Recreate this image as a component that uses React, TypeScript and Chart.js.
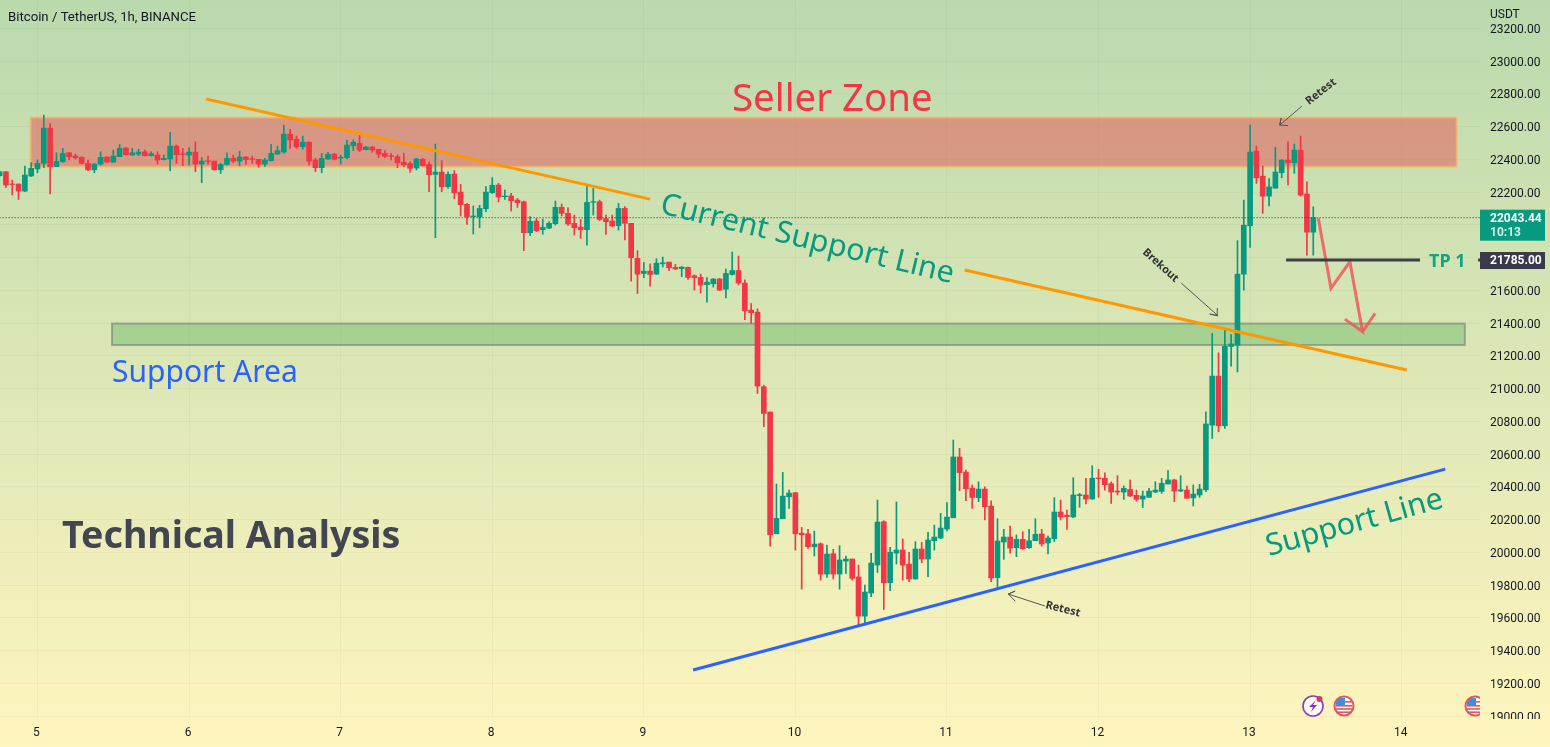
import React, { useEffect, useRef } from "react";
import { Chart, registerables } from "chart.js";

Chart.register(...registerables);

const firstHour = -6;
const opens = [
  22300,22324,22250,22249,22206,22298,22341,22375,22591,22355,
  22385,22440,22420,22412,22375,22336,22371,22414,22383,22416,
  22469,22426,22432,22446,22422,22426,22398,22402,22481,22434,
  22426,22444,22371,22391,22389,22336,22369,22406,22389,22414,
  22404,22400,22371,22392,22432,22444,22554,22522,22477,22505,
  22396,22349,22402,22432,22408,22410,22483,22497,22459,22475,
  22461,22436,22422,22416,22383,22375,22347,22400,22369,22308,
  22322,22233,22310,22200,22125,22050,22048,22098,22196,22243,
  22172,22176,22151,22141,21952,22023,21970,21980,22007,22107,
  22070,22009,21986,21970,22137,22141,22037,22023,21995,22100,
  22009,21795,21703,21717,21699,21762,21772,21740,21732,21740,
  21689,21679,21634,21640,21669,21607,21697,21721,21644,21479,
  21467,21011,20857,20113,20205,20339,20364,20117,20113,20034,
  20052,19867,19991,19867,19946,19959,19849,19610,19751,19922,
  20187,19814,19995,20014,19928,19837,20020,19959,20071,20087,
  20142,20211,20582,20490,20392,20333,20386,20282,19845,20063,
  20093,20028,20079,20028,20071,20112,20057,20083,20246,20226,
  20216,20346,20350,20325,20454,20452,20419,20374,20368,20384,
  20348,20325,20336,20368,20372,20417,20442,20374,20380,20332,
  20350,20382,20777,21076,20773,21257,21265,21699,21994,22450,
  22297,22175,22224,22318,22395,22379,22456,22188,21955,
];
const highs = [
  22330,22326,22273,22250,22359,22379,22396,22670,22620,22440,
  22467,22440,22432,22416,22396,22375,22446,22416,22457,22491,
  22471,22467,22461,22457,22446,22446,22426,22565,22487,22467,
  22471,22507,22412,22420,22389,22375,22440,22426,22450,22416,
  22420,22400,22406,22491,22481,22609,22583,22542,22542,22507,
  22406,22436,22442,22436,22426,22518,22518,22559,22479,22479,
  22461,22453,22436,22426,22436,22385,22406,22406,22385,22493,
  22392,22324,22331,22247,22131,22115,22119,22233,22288,22253,
  22212,22192,22162,22145,22050,22039,22035,22019,22145,22127,
  22105,22060,22033,22243,22223,22151,22060,22060,22131,22111,
  22009,21842,21770,21762,21793,21803,21772,21758,21744,21742,
  21695,21699,21677,21671,21673,21730,21834,21809,21664,21519,
  21487,21021,20857,20417,20488,20380,20364,20152,20140,20130,
  20058,20044,20018,20040,19977,19959,19922,19800,19993,20319,
  20193,20030,20307,20081,20000,20065,20060,20122,20166,20238,
  20303,20686,20635,20502,20411,20431,20400,20315,20205,20140,
  20160,20106,20126,20140,20205,20140,20099,20334,20319,20258,
  20456,20360,20452,20529,20507,20486,20431,20468,20405,20442,
  20380,20374,20391,20431,20452,20499,20446,20468,20405,20411,
  20415,20858,21337,21218,21367,21330,21903,22151,22609,22481,
  22359,22283,22473,22399,22507,22493,22542,22263,22110,
];
const lows = [
  22295,22227,22182,22155,22202,22295,22318,22349,22188,22355,
  22381,22396,22400,22371,22330,22318,22365,22381,22381,22416,
  22426,22424,22422,22420,22420,22371,22396,22330,22375,22361,
  22365,22324,22257,22371,22334,22314,22365,22379,22361,22369,
  22375,22351,22357,22389,22430,22436,22467,22467,22461,22365,
  22324,22318,22400,22396,22371,22402,22453,22447,22457,22443,
  22410,22410,22396,22349,22355,22320,22335,22359,22202,21921,
  22202,22223,22160,22054,22003,21944,21982,22080,22192,22140,
  22155,22084,22107,21842,21934,21958,21942,21976,21999,22054,
  21997,21938,21917,21876,22060,22025,21942,21988,21968,21907,
  21656,21581,21677,21626,21697,21742,21720,21728,21683,21667,
  21602,21583,21528,21620,21599,21554,21693,21632,21420,21400,
  20970,20767,20038,20113,20205,20268,20014,19775,20024,19977,
  19830,19847,19837,19775,19871,19830,19555,19555,19729,19877,
  19651,19765,19928,19830,19820,19837,19936,19851,20014,20083,
  20130,20211,20376,20315,20268,20309,20197,19820,19780,19957,
  19994,19973,20018,20024,20071,20038,19990,20065,20197,20140,
  20211,20275,20295,20325,20336,20380,20299,20350,20323,20340,
  20313,20273,20336,20364,20360,20417,20309,20370,20330,20283,
  20336,20370,20695,20736,20756,21137,21102,21601,21862,22253,
  22070,22116,22224,22287,22243,22314,22175,21815,21815,
];
const closes = [
  22324,22243,22246,22206,22304,22345,22375,22591,22355,22387,
  22436,22416,22410,22375,22336,22371,22412,22383,22420,22467,
  22428,22440,22444,22422,22434,22396,22406,22481,22428,22430,
  22444,22371,22389,22387,22336,22369,22406,22389,22414,22398,
  22400,22371,22396,22436,22453,22554,22518,22477,22505,22389,
  22349,22406,22430,22400,22412,22487,22504,22457,22475,22457,
  22432,22418,22418,22379,22367,22345,22402,22361,22306,22322,
  22233,22308,22196,22123,22050,22054,22100,22200,22241,22170,
  22176,22147,22135,21952,22021,21964,21984,22009,22107,22070,
  22005,21982,21970,22137,22141,22033,22019,21993,22100,22009,
  21799,21699,21717,21697,21766,21768,21738,21730,21742,21679,
  21677,21632,21650,21669,21601,21703,21721,21644,21475,21463,
  21015,20848,20107,20207,20343,20362,20113,20107,20034,20050,
  19867,19989,19867,19953,19959,19841,19610,19757,19934,20185,
  19814,20001,20014,19922,19837,20020,19959,20075,20093,20148,
  20215,20582,20486,20388,20335,20386,20278,19843,20069,20093,
  20026,20079,20022,20071,20110,20051,20087,20246,20216,20218,
  20350,20352,20325,20452,20450,20413,20368,20368,20391,20344,
  20323,20344,20374,20380,20421,20442,20374,20382,20330,20356,
  20386,20784,21076,20773,21259,21273,21699,21998,22444,22287,
  22175,22232,22322,22395,22379,22456,22181,21955,22043.44,
];

const dayLabels = ["5","6","7","8","9","10","11","12","13","14"];
const dayHours = [0,24,48,72,96,120,144,168,192,216];
const priceTicks = [19000,19200,19400,19600,19800,20000,20200,20400,20600,20800,21000,21200,21400,21600,21800,22000,22200,22400,22600,22800,23000,23200];

const lastPrice = 22043.44;
const tpPrice = 21785;
const sellerZoneHours = [-1.08, 224.7];
const sellerZonePrices = [22355, 22655];
const supportZoneHours = [11.8, 226];
const supportZonePrices = [21266, 21397];

const upperTrend = [{x:26.7,y:22768},{x:97,y:22157}];
const lowerTrend = [{x:146.8,y:21724},{x:216.8,y:21113}];
const blueTrend = [{x:103.8,y:19281},{x:222.9,y:20508}];
const tpLine = [{x:197.7,y:tpPrice},{x:218.9,y:tpPrice},{x:219,y:null},{x:228.1,y:tpPrice},{x:228.4,y:tpPrice}];
const forecastPath = [{x:202.8,y:22040},{x:204.8,y:21612},{x:207.8,y:21774},{x:209.8,y:21347},{x:207,y:21424},{x:209.8,y:21347},{x:211.8,y:21459}];
const retestTopArrow = [{x:200.2,y:22725},{x:196.7,y:22609},{x:196.9,y:22652},{x:196.7,y:22609},{x:198,y:22606}];
const breakoutArrow = [{x:181.1,y:21644},{x:186.9,y:21445},{x:185.6,y:21455},{x:186.9,y:21445},{x:186.8,y:21492}];
const retestLowArrow = [{x:159.5,y:19672},{x:153.7,y:19745},{x:154.8,y:19763},{x:153.7,y:19745},{x:154.8,y:19702}];

const GREEN = "#089981";
const RED = "#F23645";
const FONT = "'Noto Sans'";
const AXIS_FONT = "Roboto";

function bgGradient(ctx: CanvasRenderingContext2D) {
  const g = ctx.createLinearGradient(0, 0, 0, 747);
  g.addColorStop(0, "#BAD9AD");
  g.addColorStop(1, "#FFF5BE");
  return g;
}

function label(ctx: CanvasRenderingContext2D, text: string, x: number, y: number, font: string, color: string, rot = 0) {
  ctx.save();
  ctx.translate(x, y);
  ctx.rotate((rot * Math.PI) / 180);
  ctx.font = font;
  ctx.fillStyle = color;
  ctx.textAlign = "left";
  ctx.textBaseline = "alphabetic";
  ctx.fillText(text, 0, 0);
  ctx.restore();
}

function flagIcon(ctx: CanvasRenderingContext2D, cx: number, cy: number) {
  ctx.save();
  ctx.beginPath();
  ctx.arc(cx, cy, 10, 0, Math.PI * 2);
  ctx.fillStyle = "#fff";
  ctx.fill();
  ctx.clip();
  ctx.fillStyle = "#E0575B";
  for (let i = 0; i < 3; i++) ctx.fillRect(cx - 8, cy - 1 + i * 3.2, 16, 1.6);
  ctx.fillStyle = "#3F8FE0";
  ctx.fillRect(cx - 8, cy - 8, 9, 7);
  ctx.fillStyle = "#E0575B";
  ctx.fillRect(cx + 1, cy - 5, 7, 1.6);
  ctx.restore();
  ctx.beginPath();
  ctx.arc(cx, cy, 9.5, 0, Math.PI * 2);
  ctx.strokeStyle = "#E0575B";
  ctx.lineWidth = 2;
  ctx.stroke();
}

function boltIcon(ctx: CanvasRenderingContext2D, cx: number, cy: number) {
  ctx.beginPath();
  ctx.arc(cx, cy, 10, 0, Math.PI * 2);
  ctx.fillStyle = "#fff";
  ctx.fill();
  ctx.strokeStyle = "#8E3BB8";
  ctx.lineWidth = 1.6;
  ctx.stroke();
  ctx.beginPath();
  ctx.moveTo(cx + 3, cy - 6);
  ctx.lineTo(cx - 4, cy + 1);
  ctx.lineTo(cx, cy + 1);
  ctx.lineTo(cx - 2, cy + 6);
  ctx.lineTo(cx + 4, cy - 1);
  ctx.lineTo(cx, cy - 1);
  ctx.closePath();
  ctx.fillStyle = "#9C27B0";
  ctx.fill();
  ctx.beginPath();
  ctx.arc(cx + 6.5, cy - 7, 3, 0, Math.PI * 2);
  ctx.fillStyle = "#E0355A";
  ctx.fill();
}

// Nudges a scale's tick labels by a pixel or two; Chart.js has no option for it.
function nudgeLabels(scale: any, dx: number, dy: number) {
  if (scale.__nudged) return;
  scale.__nudged = true;
  const compute = scale._computeLabelItems.bind(scale);
  scale._computeLabelItems = (area: any) =>
    compute(area).map((item: any) => ({
      ...item,
      options: {
        ...item.options,
        translation: [item.options.translation[0] + dx, item.options.translation[1] + dy],
      },
    }));
}

const drawingPlugin = {
  id: "drawings",
  beforeDraw(chart: any) {
    const { ctx } = chart;
    ctx.save();
    ctx.fillStyle = bgGradient(ctx);
    ctx.fillRect(0, 0, chart.width, chart.height);
    ctx.restore();
  },
  beforeDatasetsDraw(chart: any) {
    const { ctx, scales } = chart;
    const { x, y } = scales;
    const zone = (hrs: number[], prices: number[], fill: string, stroke: string) => {
      const l = x.getPixelForValue(hrs[0]);
      const r = x.getPixelForValue(hrs[1]);
      const t = y.getPixelForValue(prices[1]);
      const b = y.getPixelForValue(prices[0]);
      ctx.save();
      ctx.fillStyle = fill;
      ctx.fillRect(l, t, r - l, b - t);
      ctx.strokeStyle = stroke;
      ctx.lineWidth = 2;
      ctx.strokeRect(l, t, r - l, b - t);
      ctx.restore();
    };
    zone(sellerZoneHours, sellerZonePrices, "rgba(230,85,90,0.51)", "rgba(255,180,90,0.65)");
    zone(supportZoneHours, supportZonePrices, "rgba(76,175,80,0.36)", "rgba(120,125,125,0.6)");
  },
  afterDatasetsDraw(chart: any) {
    const { ctx, chartArea } = chart;
    label(ctx, "Seller Zone", 732, 111, `38.4px ${FONT}`, RED);
    label(ctx, "Current Support Line", 659, 213, `30.5px ${FONT}`, GREEN, 13.5);
    label(ctx, "Support Area", 112, 382, `30px ${FONT}`, "#2962FF");
    label(ctx, "Technical Analysis", 62, 548, `bold 37.6px ${FONT}`, "#434651");
    label(ctx, "Support Line", 1269, 556, `30.4px ${FONT}`, GREEN, -15.5);
    label(ctx, "TP 1", 1429, 267, `bold 18px ${FONT}`, "#14A37F");
    label(ctx, "Retest", 1309, 105, `bold 11px ${FONT}`, "#333", -38);
    label(ctx, "Brekout", 1142, 253, `bold 11px ${FONT}`, "#333", 42);
    label(ctx, "Retest", 1045, 608, `bold 11px ${FONT}`, "#333", 14);
    label(ctx, "Bitcoin / TetherUS, 1h, BINANCE", 8, 21, `13.2px ${AXIS_FONT}`, "#131722");
    ctx.save();
    ctx.beginPath();
    ctx.rect(chartArea.left, chartArea.top, chartArea.right - chartArea.left, chartArea.bottom - chartArea.top);
    ctx.clip();
    boltIcon(ctx, 1313, 706);
    flagIcon(ctx, 1344, 706);
    flagIcon(ctx, 1475, 706);
    ctx.restore();
  },
  afterDraw(chart: any) {
    const { ctx, chartArea } = chart;
    ctx.save();
    ctx.fillStyle = bgGradient(ctx);
    ctx.fillRect(chartArea.right, chartArea.bottom + 1, chart.width - chartArea.right, chart.height);
    ctx.fillRect(chartArea.right, 0, chart.width - chartArea.right, 24);
    ctx.restore();
    label(ctx, "USDT", 1490, 18, `12px ${AXIS_FONT}`, "#131722");
    const { y } = chart.scales;
    const boxL = chartArea.right;
    const lastY = y.getPixelForValue(lastPrice);
    ctx.save();
    ctx.fillStyle = GREEN;
    ctx.fillRect(boxL, lastY - 8, 65, 31);
    ctx.fillStyle = "#3A3A4A";
    ctx.fillRect(boxL, y.getPixelForValue(tpPrice) - 8, 65, 17);
    ctx.restore();
    label(ctx, lastPrice.toFixed(2), 1490, lastY + 4, `bold 12px ${AXIS_FONT}`, "#fff");
    label(ctx, "10:13", 1490, lastY + 18, `bold 12px ${AXIS_FONT}`, "#D5F0E8");
    label(ctx, tpPrice.toFixed(2), 1490, y.getPixelForValue(tpPrice) + 4, `bold 12px ${AXIS_FONT}`, "#fff");
  },
};

export default function App() {
  const ref = useRef<HTMLCanvasElement | null>(null);
  useEffect(() => {
    const colors = closes.map((c, i) => (c >= opens[i] ? GREEN : RED));
    const line = (data: any[], color: string, width: number, extra: any = {}) => ({
      type: "line",
      data,
      borderColor: color,
      borderWidth: width,
      pointRadius: 0,
      tension: 0,
      fill: false,
      order: 0,
      ...extra,
    });
    const chart = new Chart(ref.current as HTMLCanvasElement, {
      type: "bar",
      data: {
        datasets: [
          line([{x:firstHour,y:lastPrice},{x:228.4,y:lastPrice}], "#0B3D33", 1, { borderDash: [1, 2] }),
          line(upperTrend, "#FF9800", 3),
          line(lowerTrend, "#FF9800", 3),
          line(blueTrend, "#2962FF", 3),
          line(tpLine, "#3D3D4A", 3),
          line(forecastPath, "rgba(240,80,85,0.8)", 3),
          line(retestTopArrow, "#555", 1),
          line(breakoutArrow, "#555", 1),
          line(retestLowArrow, "#555", 1),
          {
            type: "bar",
            data: opens.map((o, i) => ({ x: firstHour + i, y: [o, closes[i]] })),
            backgroundColor: colors,
            barThickness: 5,
            grouped: false,
            order: 1,
          },
          {
            type: "bar",
            data: lows.map((l, i) => ({ x: firstHour + i, y: [l, highs[i]] })),
            backgroundColor: colors,
            barThickness: 1,
            grouped: false,
            order: 2,
          },
        ] as any,
      },
      options: {
        responsive: false,
        animation: false,
        layout: { padding: 0 },
        plugins: { legend: { display: false }, tooltip: { enabled: false } },
        scales: {
          x: {
            type: "linear",
            min: -5.937,
            max: 228.4,
            offset: false,
            afterFit: (s: any) => { s.height = 29; s.paddingLeft = 0; s.paddingRight = 0; nudgeLabels(s, -1, 1); },
            afterBuildTicks: (s: any) => { s.ticks = dayHours.map((v) => ({ value: v })); },
            grid: { offset: false, color: "rgba(42,46,57,0.04)", drawTicks: false, tickLength: 0 },
            border: { display: false },
            ticks: {
              autoSkip: false,
              maxRotation: 0,
              padding: 7,
              color: "#131722",
              font: { family: AXIS_FONT, size: 12 },
              callback: (v: any) => dayLabels[dayHours.indexOf(Number(v))] ?? "",
            },
          },
          y: {
            position: "right",
            min: 18988,
            max: 23373,
            afterFit: (s: any) => { s.width = 70; s.paddingTop = 0; s.paddingBottom = 0; nudgeLabels(s, 0, 1.5); },
            afterBuildTicks: (s: any) => { s.ticks = priceTicks.map((v) => ({ value: v })); },
            grid: { color: "rgba(42,46,57,0.04)", drawTicks: false, tickLength: 0 },
            border: { display: false },
            ticks: {
              autoSkip: false,
              padding: 10,
              color: "#131722",
              font: { family: AXIS_FONT, size: 12 },
              callback: (v: any) => Number(v).toFixed(2),
            },
          },
        },
      } as any,
      plugins: [drawingPlugin],
    } as any);
    return () => chart.destroy();
  }, []);
  return (
    <canvas
      ref={ref}
      width={1550}
      height={747}
      style={{ position: "fixed", left: 0, top: 0, width: 1550, height: 747, display: "block" }}
    />
  );
}
